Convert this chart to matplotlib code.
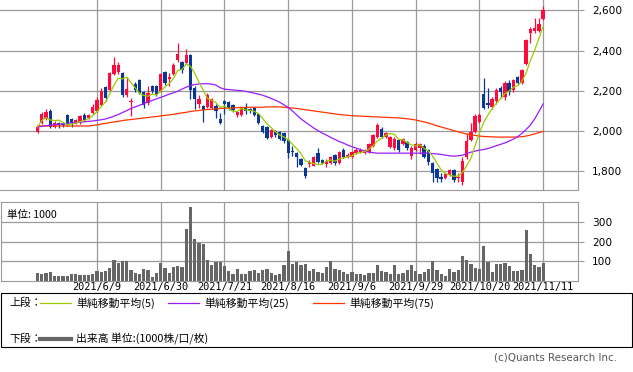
import numpy as np
import pandas as pd
import matplotlib.pyplot as plt
from matplotlib.lines import Line2D
from matplotlib.patches import Rectangle

plt.rcParams['font.family'] = ['DejaVu Sans']

# daily candles, 2021/5/20 .. 2021/11/11
opens = [1995, 2040, 2060, 2100, 2020, 2040, 2035, 2080, 2060, 2045,
         2045, 2080, 2065, 2090, 2100, 2130, 2220, 2205, 2285, 2295,
         2290, 2180, 2145, 2235, 2255, 2195, 2140, 2225, 2225, 2200,
         2295, 2260, 2285, 2355, 2345, 2340, 2380, 2215, 2135, 2125,
         2120, 2115, 2125, 2060, 2150, 2145, 2130, 2080, 2080, 2115,
         2110, 2115, 2085, 2025, 2020, 1972, 2000, 1995, 1990, 1955,
         1902, 1890, 1862, 1815, 1838, 1828, 1890, 1855, 1835, 1842,
         1880, 1842, 1905, 1872, 1872, 1893, 1898, 1893, 1895, 1925,
         1972, 2010, 1972, 1920, 1915, 1955, 1938, 1945, 1875, 1905,
         1915, 1925, 1905, 1840, 1810, 1772, 1765, 1780, 1808, 1765,
         1745, 1870, 1955, 1995, 2045, 2185, 2140, 2120, 2150, 2215,
         2170, 2240, 2205, 2270, 2240, 2335, 2485, 2495, 2495, 2555]
highs = [2030, 2095, 2110, 2110, 2050, 2045, 2045, 2085, 2065, 2060,
         2080, 2090, 2085, 2135, 2170, 2215, 2225, 2295, 2370, 2345,
         2295, 2270, 2165, 2245, 2260, 2200, 2225, 2230, 2230, 2290,
         2300, 2290, 2340, 2435, 2350, 2410, 2385, 2225, 2180, 2130,
         2190, 2165, 2135, 2090, 2155, 2150, 2135, 2100, 2120, 2140,
         2115, 2120, 2090, 2030, 2025, 2012, 2005, 2000, 1995, 1960,
         1925, 1895, 1865, 1820, 1855, 1875, 1915, 1862, 1860, 1878,
         1885, 1900, 1915, 1890, 1900, 1915, 1915, 1912, 1940, 1985,
         2040, 2020, 1995, 1975, 1970, 1960, 1965, 1950, 1925, 1945,
         1940, 1935, 1910, 1845, 1815, 1790, 1790, 1810, 1812, 1790,
         1870, 1990, 2040, 2085, 2090, 2265, 2215, 2170, 2215, 2225,
         2250, 2255, 2260, 2275, 2310, 2455, 2515, 2560, 2560, 2620]
lows = [1990, 2035, 2055, 2015, 2015, 2015, 2020, 2025, 2020, 2035,
        2035, 2050, 2060, 2085, 2095, 2125, 2150, 2200, 2280, 2285,
        2170, 2170, 2075, 2195, 2185, 2115, 2130, 2190, 2175, 2195,
        2230, 2225, 2280, 2345, 2290, 2335, 2160, 2110, 2115, 2045,
        2115, 2110, 2065, 2035, 2085, 2105, 2095, 2070, 2075, 2085,
        2090, 2075, 2035, 1988, 1960, 1965, 1970, 1955, 1940, 1865,
        1875, 1820, 1828, 1765, 1822, 1825, 1840, 1835, 1820, 1838,
        1830, 1835, 1865, 1865, 1868, 1888, 1892, 1888, 1890, 1920,
        1965, 1965, 1965, 1915, 1905, 1895, 1930, 1905, 1860, 1900,
        1885, 1865, 1830, 1745, 1745, 1748, 1760, 1775, 1748, 1748,
        1730, 1860, 1950, 1990, 2040, 2110, 2115, 2110, 2135, 2165,
        2155, 2180, 2195, 2235, 2235, 2330, 2435, 2485, 2490, 2550]
closes = [2020, 2085, 2095, 2020, 2040, 2030, 2030, 2035, 2040, 2055,
          2075, 2055, 2080, 2120, 2155, 2200, 2165, 2290, 2330, 2330,
          2180, 2210, 2150, 2205, 2190, 2130, 2190, 2200, 2185, 2285,
          2240, 2268, 2330, 2385, 2305, 2380, 2205, 2160, 2160, 2105,
          2180, 2160, 2100, 2042, 2135, 2110, 2105, 2095, 2115, 2100,
          2100, 2080, 2040, 1993, 1965, 2005, 1978, 1958, 1948, 1892,
          1895, 1870, 1832, 1775, 1845, 1870, 1845, 1843, 1850, 1872,
          1842, 1895, 1872, 1880, 1895, 1905, 1908, 1905, 1935, 1980,
          2030, 1970, 1988, 1968, 1962, 1905, 1958, 1915, 1915, 1935,
          1935, 1870, 1845, 1790, 1765, 1762, 1785, 1805, 1758, 1772,
          1850, 1950, 1995, 2075, 2080, 2115, 2130, 2160, 2205, 2195,
          2240, 2195, 2255, 2240, 2305, 2450, 2505, 2510, 2530, 2600]

# 25 and 75 day averages
ma25 = [2020, 2023, 2026, 2029, 2032, 2034, 2036, 2038, 2040, 2042,
        2044, 2046, 2048, 2050, 2053, 2056, 2060, 2066, 2074, 2082,
        2092, 2102, 2112, 2120, 2128, 2136, 2145, 2152, 2160, 2167,
        2175, 2183, 2190, 2198, 2208, 2218, 2226, 2231, 2234, 2235,
        2235, 2233, 2228, 2215, 2208, 2206, 2204, 2202, 2200, 2197,
        2193, 2188, 2183, 2178, 2170, 2162, 2153, 2143, 2130, 2117,
        2100, 2080, 2060, 2045, 2030, 2015, 2002, 1990, 1980, 1968,
        1958, 1948, 1940, 1930, 1922, 1915, 1908, 1900, 1895, 1892,
        1890, 1890, 1890, 1890, 1890, 1890, 1890, 1890, 1890, 1890,
        1890, 1890, 1890, 1888, 1886, 1884, 1880, 1877, 1875, 1877,
        1880, 1888, 1895, 1900, 1905, 1908, 1913, 1920, 1927, 1934,
        1941, 1950, 1960, 1972, 1988, 2008, 2030, 2060, 2097, 2135]
ma75 = [2025, 2025, 2025, 2025, 2025, 2025, 2025, 2025, 2025, 2025,
        2025, 2025, 2025, 2028, 2030, 2035, 2038, 2042, 2045, 2048,
        2052, 2055, 2057, 2060, 2062, 2065, 2067, 2070, 2072, 2075,
        2078, 2080, 2083, 2087, 2090, 2093, 2097, 2100, 2102, 2105,
        2107, 2108, 2110, 2112, 2113, 2114, 2115, 2116, 2117, 2117,
        2118, 2118, 2118, 2118, 2120, 2120, 2120, 2120, 2118, 2116,
        2114, 2112, 2109, 2106, 2103, 2100, 2097, 2094, 2091, 2088,
        2085, 2082, 2080, 2078, 2076, 2075, 2074, 2073, 2072, 2071,
        2070, 2069, 2068, 2067, 2066, 2065, 2063, 2061, 2058, 2055,
        2050, 2045, 2040, 2033, 2026, 2020, 2014, 2008, 2002, 1996,
        1990, 1985, 1981, 1978, 1975, 1973, 1972, 1971, 1970, 1970,
        1970, 1970, 1970, 1970, 1972, 1975, 1980, 1986, 1992, 1998]

volume = [43, 38, 43, 48, 26, 28, 28, 28, 36, 36,
          29, 29, 29, 36, 51, 47, 51, 68, 108, 94,
          103, 103, 56, 43, 36, 61, 56, 22, 40, 90,
          68, 41, 73, 77, 73, 267, 381, 215, 197, 188,
          108, 82, 99, 99, 77, 51, 36, 61, 34, 34,
          51, 56, 40, 56, 61, 40, 31, 34, 82, 154,
          85, 99, 82, 85, 51, 61, 44, 39, 73, 103,
          61, 54, 46, 36, 48, 36, 36, 31, 41, 41,
          82, 51, 46, 36, 82, 36, 41, 54, 82, 51,
          36, 44, 61, 103, 56, 36, 27, 61, 48, 54,
          128, 108, 85, 65, 61, 180, 99, 48, 85, 85,
          90, 77, 51, 51, 56, 261, 137, 82, 73, 94]

tick_pos = [14, 29, 44, 59, 74, 89, 104, 119]
tick_labels = ['2021/6/9', '2021/6/30', '2021/7/21', '2021/8/16',
               '2021/9/6', '2021/9/29', '2021/10/20', '2021/11/11']
price_ticks = [1800, 2000, 2200, 2400, 2600]
vol_ticks = [100, 200, 300]

up_col = '#ff0a3c'
down_col = '#0a3796'
grid_col = '#9a9a9a'

o = np.array(opens); h = np.array(highs); l = np.array(lows); c = np.array(closes)
x = np.arange(len(c))
ma5 = pd.Series(c).rolling(5, min_periods=1).mean()

W, H = 633, 372
fig = plt.figure(figsize=(W / 100, H / 100), dpi=100)
ax = fig.add_axes([0, (H - 190) / H, 578 / W, 190 / H])
axv = fig.add_axes([1 / W, (H - 281) / H, 577 / W, 79 / H])

# upper panel
ax.set_xlim(-8.83, 127.2)
ax.set_ylim(1707, 2651)
for p in tick_pos:
    ax.axvline(p, color=grid_col, lw=0.9, zorder=0)
for p in price_ticks:
    ax.axhline(p, color=grid_col, lw=0.9, zorder=0)

cols = np.where(c >= o, up_col, down_col)
ax.vlines(x, l, h, colors=cols, lw=0.9, zorder=2)
body = np.maximum(np.abs(c - o), 3)
ax.bar(x, body, bottom=np.minimum(o, c), width=0.8, color=cols, lw=0, zorder=3)

ax.plot(x, ma75, color='#ff3300', lw=0.9, zorder=4)
ax.plot(x, ma25, color='#9a1cff', lw=0.9, zorder=4)
ax.plot(x, ma5, color='#99cc00', lw=0.9, zorder=5)

ax.yaxis.tick_right()
ax.set_yticks(price_ticks)
ax.set_yticklabels([f'{v:,}' for v in price_ticks], fontsize=7.6)
ax.tick_params(axis='y', length=4, color=grid_col, pad=6)
ax.set_xticks([])
for s in ['left', 'top']:
    ax.spines[s].set_visible(False)
for s in ['right', 'bottom']:
    ax.spines[s].set_color(grid_col)

# volume panel
axv.set_xlim(-8.59, 127.2)
axv.set_ylim(0, 405)
for p in tick_pos:
    axv.axvline(p, color=grid_col, lw=0.9, zorder=0)
for p in vol_ticks:
    axv.axhline(p, color=grid_col, lw=0.9, zorder=0)
axv.bar(x, volume, width=0.75, color='#666666', lw=0, zorder=2)
axv.yaxis.tick_right()
axv.set_yticks(vol_ticks)
axv.set_yticklabels([str(v) for v in vol_ticks], fontsize=7.6)
axv.tick_params(axis='y', length=4, color=grid_col, pad=6)
axv.set_xticks(tick_pos)
axv.set_xticklabels(tick_labels, fontsize=7.4, family='DejaVu Sans Mono')
axv.tick_params(axis='x', length=0, pad=0.5)
for s in axv.spines.values():
    s.set_color(grid_col)
axv.text(0.01, 0.83, '単位: 1000', transform=axv.transAxes, fontsize=7.6,
         family=['Noto Sans CJK JP', 'DejaVu Sans'], va='center')

# legend box
jp = ['Noto Sans CJK JP', 'DejaVu Sans']
fig.patches.append(Rectangle((0.5 / W, (H - 347) / H), 631.5 / W, 54 / H,
                             transform=fig.transFigure, fill=False,
                             edgecolor='black', lw=0.8))

def fx(px):
    return px / W

def fy(py):
    return (H - py) / H

fig.text(fx(9), fy(303), '上段：', fontsize=7.8, family=jp, va='center')
leg = [(40, '#99cc00', '単純移動平均(5)'),
       (168, '#9a1cff', '単純移動平均(25)'),
       (313, '#ff3300', '単純移動平均(75)')]
for x0, col, txt in leg:
    fig.lines.append(Line2D([fx(x0), fx(x0 + 31)], [fy(303), fy(303)],
                            transform=fig.transFigure, color=col, lw=0.9))
    fig.text(fx(x0 + 36), fy(303), txt, fontsize=7.8, family=jp, va='center')
fig.text(fx(9), fy(339), '下段：', fontsize=7.8, family=jp, va='center')
fig.lines.append(Line2D([fx(40), fx(71)], [fy(339), fy(339)],
                        transform=fig.transFigure, color='#666666', lw=3))
fig.text(fx(76), fy(339), '出来高 単位:(1000株/口/枚)', fontsize=7.8, family=jp,
         va='center')
fig.text(fx(617), fy(358), '(c)Quants Research Inc.', fontsize=7.4,
         color='#555555', ha='right', va='center')

fig.savefig('out.png', dpi=100)
